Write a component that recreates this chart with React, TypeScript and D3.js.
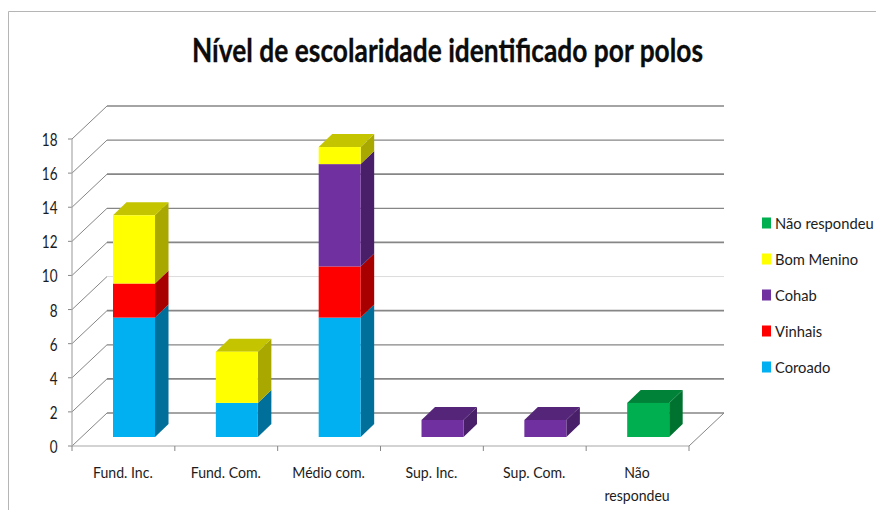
import React from 'react';
import * as d3 from 'd3';

const categories = ['Fund. Inc.', 'Fund. Com.', 'Médio com.', 'Sup. Inc.', 'Sup. Com.', 'Não respondeu'];
const seriesNames = ['Coroado', 'Vinhais', 'Cohab', 'Bom Menino', 'Não respondeu'];
const coroado = [7, 2, 7, 0, 0, 0];
const vinhais = [2, 0, 3, 0, 0, 0];
const cohab = [0, 0, 6, 1, 1, 0];
const bomMenino = [4, 3, 1, 0, 0, 0];
const naoRespondeu = [0, 0, 0, 0, 0, 2];
const yTicks = [0, 2, 4, 6, 8, 10, 12, 14, 16, 18];

// front, top, side
const colors = [
  ['#00b0f0', '#00b0f0', '#00709a'],
  ['#ff0000', '#c00000', '#a80000'],
  ['#7030a0', '#552579', '#481f68'],
  ['#ffff00', '#c4c400', '#a8a800'],
  ['#00b050', '#008238', '#00722f'],
];

const width = 876;
const height = 510;
const font = 'Lato, sans-serif';
const gridColor = '#868686';

const depthX = 35;
const depthY = 33;
const barDepthX = 13.5;
const barDepthY = 13;
const barOffsetX = 10.6;
const barOffsetY = 9;

const x = d3.scaleBand().domain(categories).range([72, 689]).paddingInner(0).paddingOuter(0);
const y = d3.scaleLinear().domain([0, 18]).range([446, 139]);
const barWidth = 42;

const stacked = d3
  .stack<number>()
  .keys(d3.range(5) as any)
  .value((i: number, k: any) => [coroado, vinhais, cohab, bomMenino, naoRespondeu][k][i])(d3.range(6));

// o texto do original e mais estreito que a Lato
const Narrow = ({ x, y, sx, anchor, size, children }: any) => (
  <text
    transform={`translate(${x},${y}) scale(${sx},1)`}
    textAnchor={anchor}
    fontSize={size}
    fill="#1c1c1c"
  >
    {children}
  </text>
);

const App = () => {
  return (
    <svg
      width={width}
      height={height}
      style={{ position: 'absolute', left: 0, top: 0, background: '#fff', fontFamily: font }}
    >
      <path d={`M8.5 ${height} V11.5 H${width}`} fill="none" stroke="#b5b5b5" />

      <text
        x={192}
        y={61.5}
        textLength={511}
        lengthAdjust="spacingAndGlyphs"
        fontSize={32}
        fontWeight={700}
        fill="#0c0c0c"
        stroke="#0c0c0c"
        strokeWidth={0.3}
      >
        Nível de escolaridade identificado por polos
      </text>

      {/* paredes e chao */}
      {yTicks.map(t => (
        <line
          key={t}
          x1={x.range()[0] + depthX}
          x2={x.range()[1] + depthX}
          y1={y(t) - depthY}
          y2={y(t) - depthY}
          stroke={t === 8 ? '#dcdcdc' : gridColor}
          strokeWidth={t === 8 ? 1 : t === 0 || t % 4 === 2 ? 1.7 : 1.2}
        />
      ))}
      {yTicks.map(t => (
        <g key={t} stroke={gridColor} fill="none">
          <line x1={x.range()[0]} x2={x.range()[0] + depthX} y1={y(t)} y2={y(t) - depthY} />
          <line x1={x.range()[0] - 4} x2={x.range()[0]} y1={y(t)} y2={y(t)} />
        </g>
      ))}
      <line x1={72} x2={72} y1={y(18)} y2={y(0)} stroke="#a8a8a8" strokeWidth={1.2} />
      <line x1={72} x2={689} y1={y(0)} y2={y(0)} stroke="#a8a8a8" strokeWidth={1.2} />
      <line x1={689} x2={689 + depthX} y1={y(0)} y2={y(0) - depthY} stroke={gridColor} />
      {[...categories.map(c => x(c) as number), 689].map(v => (
        <line key={v} x1={v} x2={v} y1={y(0)} y2={y(0) + 5} stroke={gridColor} />
      ))}

      {yTicks.map(t => (
        <Narrow key={t} x={57.5} y={y(t) + 7} sx={0.82} anchor="end" size={16.5}>
          {t}
        </Narrow>
      ))}

      {categories.map(c => {
        const cx = (x(c) as number) + x.bandwidth() / 2 - 0.5;
        const lines = c === 'Não respondeu' ? ['Não', 'respondeu'] : [c];
        return lines.map((l, j) => (
          <Narrow key={l} x={cx} y={478 + j * 22.5} sx={0.88} anchor="middle" size={16}>
            {l}
          </Narrow>
        ));
      })}

      {/* barras */}
      {stacked.map((s, si) =>
        s.map((d, i) => {
          if (d[1] === d[0]) return null;
          const x0 = (x(categories[i]) as number) + x.bandwidth() / 2 + barOffsetX - barWidth / 2;
          const x1 = x0 + barWidth;
          const top = y(d[1]) - barOffsetY;
          const bottom = y(d[0]) - barOffsetY;
          const isTop = d[1] === Math.max(...stacked.map(o => o[i][1]));
          return (
            <g key={`${si}-${i}`}>
              <path
                d={`M${x1} ${top} l${barDepthX} ${-barDepthY} V${bottom - barDepthY} L${x1} ${bottom} Z`}
                fill={colors[si][2]}
              />
              {isTop && (
                <path
                  d={`M${x0} ${top} l${barDepthX} ${-barDepthY} H${x1 + barDepthX} L${x1} ${top} Z`}
                  fill={colors[si][1]}
                />
              )}
              <rect x={x0} y={top} width={barWidth} height={bottom - top} fill={colors[si][0]} />
            </g>
          );
        })
      )}

      {/* legenda */}
      {seriesNames.map((n, i) => {
        const ly = 367 - i * 36;
        return (
          <g key={n}>
            <rect x={762} y={ly - 5.5} width={9} height={11} fill={colors[i][0]} />
            <Narrow x={775} y={ly + 5.5} sx={0.92} anchor="start" size={16}>
              {n}
            </Narrow>
          </g>
        );
      })}
    </svg>
  );
};

export default App;
